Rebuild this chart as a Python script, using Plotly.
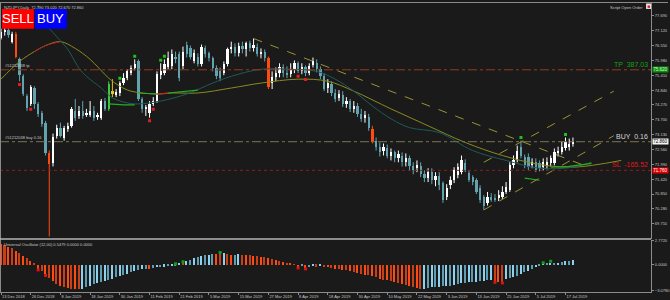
import plotly.graph_objects as go

# ---------------- data ----------------
tick_labels = ["13 Dec 2018", "26 Dec 2018", "8 Jan 2019", "18 Jan 2019", "30 Jan 2019",
               "11 Feb 2019", "21 Feb 2019", "5 Mar 2019", "15 Mar 2019", "27 Mar 2019",
               "8 Apr 2019", "18 Apr 2019", "30 Apr 2019", "10 May 2019", "22 May 2019",
               "3 Jun 2019", "13 Jun 2019", "25 Jun 2019", "5 Jul 2019", "17 Jul 2019"]

open_ = [76.85, 77.08, 77.16, 76.70, 77.01, 76.02, 75.37, 74.61, 74.31, 74.92,
         74.31, 73.97, 73.59, 72.41, 72.03, 73.09, 73.40, 73.02, 73.36, 73.47,
         74.04, 73.85, 74.04, 73.89, 73.89, 74.04, 73.81, 73.78, 74.42, 74.12,
         74.80, 74.69, 74.73, 75.11, 75.30, 75.49, 75.68, 75.94, 74.50, 74.12,
         73.97, 74.31, 74.42, 75.41, 75.49, 75.71, 75.75, 76.13, 76.21, 75.75,
         76.59, 76.44, 75.94, 76.13, 75.83, 76.44, 76.25, 76.06, 75.68, 75.56,
         75.49, 75.83, 76.40, 76.51, 76.25, 76.55, 76.40, 76.63, 76.47, 76.51,
         76.21, 76.32, 76.06, 75.11, 75.33, 75.49, 75.71, 75.49, 75.45, 75.64,
         75.87, 75.56, 75.71, 75.49, 75.79, 75.90, 75.64, 75.37, 74.92, 75.07,
         74.73, 74.54, 74.65, 74.31, 74.42, 74.12, 74.23, 73.93, 73.78, 73.81,
         73.36, 72.90, 72.67, 72.52, 72.60, 72.33, 72.45, 72.22, 72.33, 72.07,
         72.22, 71.91, 71.84, 71.91, 71.61, 71.46, 71.69, 71.38, 71.53, 71.27,
         70.74, 71.19, 71.38, 71.57, 71.69, 72.03, 71.65, 71.50, 71.38, 71.08,
         70.74, 70.51, 70.74, 70.70, 70.70, 70.74, 70.93, 71.00, 71.95, 72.14,
         72.64, 72.26, 72.26, 71.95, 72.07, 72.03, 71.88, 71.91, 72.03, 72.03,
         72.41, 72.45, 72.60, 72.64, 72.79]
high = [77.20, 77.27, 77.23, 77.08, 77.08, 76.09, 75.45, 74.69, 75.03, 74.99,
        74.38, 74.04, 73.66, 72.52, 73.17, 73.51, 73.59, 73.47, 73.59, 74.19,
        74.50, 74.23, 74.42, 74.12, 74.42, 74.23, 73.97, 74.50, 74.54, 75.18,
        75.26, 74.88, 75.18, 75.49, 75.64, 75.79, 76.02, 76.02, 74.57, 74.27,
        74.42, 74.57, 75.56, 75.87, 76.02, 76.32, 76.40, 76.32, 76.32, 76.51,
        76.70, 76.55, 76.40, 76.25, 76.59, 76.55, 76.32, 76.13, 75.79, 75.71,
        75.94, 76.47, 76.70, 76.63, 76.66, 76.70, 76.70, 76.74, 76.82, 76.63,
        76.44, 76.40, 76.13, 75.56, 75.71, 75.87, 75.83, 75.75, 75.87, 75.98,
        75.94, 75.87, 75.79, 75.87, 76.09, 76.02, 75.75, 75.49, 75.26, 75.18,
        74.88, 74.84, 74.80, 74.57, 74.50, 74.42, 74.35, 74.12, 74.04, 73.93,
        73.47, 73.02, 72.83, 72.79, 72.75, 72.60, 72.52, 72.52, 72.45, 72.41,
        72.33, 72.07, 72.14, 72.07, 71.76, 71.84, 71.84, 71.69, 71.69, 71.34,
        71.23, 71.53, 71.88, 72.03, 72.33, 72.18, 71.76, 71.57, 71.46, 71.19,
        70.81, 70.93, 70.89, 70.85, 71.00, 71.15, 71.31, 72.07, 72.33, 72.71,
        72.90, 72.37, 72.41, 72.22, 72.22, 72.14, 72.22, 72.26, 72.33, 72.60,
        72.67, 72.86, 73.02, 72.98, 73.02]
low = [76.78, 76.93, 76.85, 76.63, 76.06, 75.18, 74.61, 74.04, 74.23, 74.12,
       73.81, 73.43, 72.33, 69.22, 71.91, 72.98, 73.02, 72.90, 73.24, 73.40,
       73.66, 73.74, 73.74, 73.81, 73.81, 73.66, 73.70, 73.70, 74.04, 74.04,
       74.57, 74.57, 74.61, 75.03, 75.22, 75.41, 75.60, 74.42, 73.97, 73.85,
       73.78, 74.23, 74.35, 75.26, 75.41, 75.64, 75.64, 75.87, 75.18, 75.64,
       76.09, 76.02, 75.87, 75.75, 75.75, 76.09, 75.94, 75.56, 75.26, 75.18,
       75.41, 75.75, 76.25, 76.13, 76.13, 76.25, 76.13, 76.32, 76.32, 76.13,
       76.06, 75.94, 74.88, 74.88, 75.18, 75.33, 75.33, 75.30, 75.33, 75.49,
       75.49, 75.45, 75.37, 75.41, 75.71, 75.52, 75.26, 74.80, 74.73, 74.61,
       74.38, 74.42, 74.19, 74.16, 74.00, 73.97, 73.81, 73.62, 73.59, 73.28,
       72.79, 72.52, 72.29, 72.33, 72.22, 72.14, 72.07, 72.07, 71.91, 71.91,
       71.76, 71.61, 71.69, 71.50, 71.31, 71.31, 71.23, 71.15, 71.00, 70.51,
       70.62, 71.04, 71.27, 71.46, 71.61, 71.69, 71.31, 71.19, 70.85, 70.51,
       70.24, 70.41, 70.55, 70.55, 70.58, 70.66, 70.85, 70.93, 71.84, 72.07,
       72.22, 71.84, 71.76, 71.84, 71.69, 71.72, 71.76, 71.80, 71.91, 71.95,
       72.29, 72.37, 72.52, 72.52, 72.67]
close = [77.08, 77.16, 76.97, 77.01, 76.13, 75.41, 74.69, 74.16, 74.95, 74.31,
         73.93, 73.55, 72.41, 71.99, 73.05, 73.40, 73.09, 73.40, 73.47, 74.12,
         73.78, 74.04, 73.85, 73.97, 74.04, 73.78, 73.85, 74.42, 74.12, 75.07,
         74.69, 74.76, 75.11, 75.30, 75.56, 75.68, 75.83, 74.50, 74.12, 74.16,
         74.31, 74.42, 75.45, 75.56, 75.83, 76.06, 76.21, 76.02, 75.30, 76.32,
         76.21, 76.13, 76.25, 75.83, 76.51, 76.21, 76.06, 75.68, 75.37, 75.30,
         75.83, 76.40, 76.51, 76.25, 76.55, 76.40, 76.63, 76.44, 76.59, 76.21,
         76.32, 76.06, 74.95, 75.33, 75.49, 75.71, 75.49, 75.41, 75.64, 75.87,
         75.56, 75.71, 75.49, 75.75, 75.94, 75.64, 75.37, 74.88, 75.11, 74.73,
         74.50, 74.69, 74.31, 74.42, 74.12, 74.23, 73.93, 73.74, 73.89, 73.40,
         72.86, 72.67, 72.45, 72.64, 72.33, 72.45, 72.22, 72.37, 72.07, 72.22,
         71.91, 71.76, 71.95, 71.61, 71.46, 71.69, 71.38, 71.53, 71.19, 70.62,
         71.08, 71.38, 71.76, 71.88, 72.14, 71.76, 71.38, 71.31, 70.93, 70.62,
         70.41, 70.74, 70.62, 70.62, 70.81, 70.93, 71.12, 71.95, 72.14, 72.52,
         72.33, 71.95, 71.88, 72.07, 71.76, 71.84, 72.07, 72.07, 72.22, 72.45,
         72.52, 72.64, 72.83, 72.79, 72.86]

osc = [2.40, 2.31, 2.12, 1.92, 1.55, 1.35, 1.05, 0.77, 0.46, 0.12,
       -0.50, -0.77, -1.15, -1.54, -1.92, -2.19, -2.42, -2.58, -2.69, -2.77,
       -2.81, -2.82, -2.77, -2.58, -2.42, -2.27, -2.12, -2.00, -1.85, -1.73,
       -1.62, -1.46, -1.35, -1.19, -1.04, -0.88, -0.73, -0.62, -0.54, -0.50,
       -0.52, -0.38, -0.31, -0.27, -0.23, -0.15, -0.12, -0.08, 0.19, 0.15,
       0.42, 0.58, 0.73, 0.88, 1.00, 1.12, 1.19, 1.27, 1.25, 1.23,
       1.38, 1.27, 1.15, 1.18, 1.27, 1.15, 1.12, 1.08, 1.04, 1.00,
       0.96, 0.92, 0.77, 0.65, 0.54, 0.46, 0.31, 0.23, 0.12, 0.04,
       -0.27, -0.12, -0.38, -0.27, -0.12, -0.23, -0.12, -0.27, -0.31, -0.42,
       -0.46, -0.50, -0.58, -0.65, -0.77, -0.88, -0.96, -1.08, -1.15, -1.23,
       -1.35, -1.46, -1.62, -1.73, -1.81, -1.92, -2.00, -2.12, -2.23, -2.35,
       -2.50, -2.58, -2.69, -2.78, -2.77, -2.66, -2.58, -2.57, -2.55, -2.53,
       -2.50, -2.42, -2.31, -2.19, -2.12, -2.10, -2.04, -1.98, -1.96, -1.92,
       -1.85, -1.81, -1.73, -1.95, -1.98, -2.02, -1.62, -1.58, -1.46, -1.27,
       -1.04, -0.88, -0.69, -0.50, -0.31, -0.19, 0.04, 0.12, 0.20, 0.21,
       0.22, 0.27, 0.38, 0.46, 0.58]

# signal candles (bar index -> colour)
signal_bars = {4: "#ff4a10", 13: "#ff4a10", 29: "#3ccc3c", 30: "#e8c020", 72: "#ff4a10", 100: "#ff4a10"}

# moving averages read as (bar index, price) points
ma_slow_idx = [0, 5, 9, 12, 16, 20, 24, 29, 32, 35, 42, 46, 53, 62, 70, 80, 88, 95, 105, 115, 125, 135, 145, 154, 167]
ma_slow_val = [75.26, 75.94, 76.32, 76.55, 76.70, 76.44, 76.02, 75.30, 74.99, 74.80, 74.69, 74.73, 74.73, 74.92,
               75.11, 75.26, 75.18, 74.80, 74.12, 73.47, 72.83, 72.33, 71.99, 71.88, 72.14]
ma_slow_red_idx = [9, 12, 16]
ma_slow_red_val = [76.32, 76.55, 76.70]
ma_mid_idx = [10, 11, 15, 18, 21, 23, 27, 30, 34, 37, 43, 50, 57, 62, 70, 78, 85, 90, 95, 100, 105, 110, 118,
              127, 136, 145, 154, 159]
ma_mid_val = [78.11, 77.58, 76.89, 76.40, 75.68, 75.37, 74.92, 74.54, 74.35, 74.31, 74.42, 74.69, 75.11, 75.37,
              75.64, 75.64, 75.56, 75.26, 74.80, 74.23, 73.74, 73.40, 73.21, 72.52, 72.14, 71.84, 71.88, 72.07]
ma_fast_segments = [
    ([29, 33, 36], [74.31, 74.27, 74.27], "#22b022"),
    ([37, 42], [74.73, 74.69], "#22b022"),
    ([42, 45], [74.69, 74.73], "#d02020"),
    ([45, 53], [74.73, 74.84], "#22b022"),
    ([141, 145], [71.46, 71.38], "#22b022"),
    ([148, 153, 159], [71.88, 71.91, 72.03], "#22b022"),
]

trend_lines = [([68, 157], [76.82, 71.95]), ([130, 165], [70.24, 73.09]), ([130, 165], [72.07, 74.80])]

buy_signal_idx = [32, 36, 43, 44, 140, 152]
sell_signal_idx = [5, 8, 40, 41, 80, 82]
osc_buy_idx = [47, 49, 59, 146, 148]
osc_sell_idx = [10, 12, 80, 82, 133, 135]

price_ticks = [77.69, 77.12, 76.55, 75.98, 75.41, 74.84, 74.27, 73.70, 73.13, 72.56, 71.99, 71.42, 70.85, 70.28, 69.71]
osc_ticks = [2.772, 0.0, -3.078]

tp_price, tp_text = 75.62, "TP  387.03"
buy_price, buy_text = 72.86, "BUY  0.16"
sl_price, sl_text = 71.76, "SL  -165.52"
ticket = "#51212038"

# ---------------- figure ----------------
W, H = 670, 300
BG = "#1a1a1a"
AX = "#8c8c8c"
XR = 653 / W
n = len(close)
idx = list(range(n))

fig = go.Figure()

BULL, BEAR = "#ffffff", "#62a3ae"
body_base, body_h, body_col = [], [], []
wick_groups = {}
for i in idx:
    o, c = open_[i], close[i]
    col = signal_bars.get(i, BULL if c >= o else BEAR)
    body_base.append(min(o, c))
    body_h.append(max(abs(c - o), 0.025))
    body_col.append(col)
    wx, wy = wick_groups.setdefault(col, ([], []))
    wx += [i, i, None]
    wy += [low[i], high[i], None]

for col, (wx, wy) in wick_groups.items():
    fig.add_trace(go.Scatter(x=wx, y=wy, mode="lines", line=dict(color=col, width=1),
                             xaxis="x2", yaxis="y", hoverinfo="skip", showlegend=False))
fig.add_trace(go.Bar(x=idx, y=body_h, base=body_base, width=0.62, marker=dict(color=body_col, line=dict(width=0)),
                     xaxis="x2", yaxis="y", showlegend=False))

# moving averages
fig.add_trace(go.Scatter(x=ma_slow_idx, y=ma_slow_val, mode="lines", line=dict(color="#8a8a22", width=1, shape="spline"),
                         xaxis="x2", yaxis="y", showlegend=False))
fig.add_trace(go.Scatter(x=ma_slow_red_idx, y=ma_slow_red_val, mode="lines", line=dict(color="#b02020", width=1, shape="spline"),
                         xaxis="x2", yaxis="y", showlegend=False))
fig.add_trace(go.Scatter(x=ma_mid_idx, y=ma_mid_val, mode="lines", line=dict(color="#1f5a5a", width=1, shape="spline"),
                         xaxis="x2", yaxis="y", showlegend=False))
for sx, sy, col in ma_fast_segments:
    fig.add_trace(go.Scatter(x=sx, y=sy, mode="lines", line=dict(color=col, width=1.2),
                             xaxis="x2", yaxis="y", showlegend=False))
for tx, ty in trend_lines:
    fig.add_trace(go.Scatter(x=tx, y=ty, mode="lines", line=dict(color="#9a9432", width=1, dash="dash"),
                             xaxis="x2", yaxis="y", showlegend=False))

# signal markers
fig.add_trace(go.Scatter(x=buy_signal_idx, y=[high[i] + 0.12 for i in buy_signal_idx], mode="markers",
                         marker=dict(color="#1fbf1f", size=3, symbol="square"), xaxis="x2", yaxis="y", showlegend=False))
fig.add_trace(go.Scatter(x=sell_signal_idx, y=[low[i] - 0.12 for i in sell_signal_idx], mode="markers",
                         marker=dict(color="#e02020", size=3, symbol="square"), xaxis="x2", yaxis="y", showlegend=False))

# oscillator histogram
osc_col = []
for i in idx:
    rising = i > 0 and osc[i] >= osc[i - 1]
    if rising:
        osc_col.append("#8fd0ee" if i % 2 == 0 else "#5f9eb0")
    else:
        osc_col.append("#ff4a10" if i % 2 == 0 else "#c8401a")
fig.add_trace(go.Bar(x=idx, y=osc, width=0.42, marker=dict(color=osc_col, line=dict(width=0)),
                     xaxis="x", yaxis="y2", showlegend=False))
fig.add_trace(go.Scatter(x=osc_buy_idx, y=[osc[i] + 0.15 for i in osc_buy_idx], mode="markers",
                         marker=dict(color="#10a010", size=3, symbol="square"), xaxis="x", yaxis="y2", showlegend=False))
fig.add_trace(go.Scatter(x=osc_sell_idx, y=[osc[i] - 0.15 for i in osc_sell_idx], mode="markers",
                         marker=dict(color="#e01010", size=3, symbol="square"), xaxis="x", yaxis="y2", showlegend=False))

# horizontal order lines
for price, col, dash in [(tp_price, "#9a3a1a", "dashdot"), (buy_price, "#7a7450", "dashdot"), (sl_price, "#8f1a1a", "dot")]:
    fig.add_shape(type="line", xref="paper", yref="y", x0=0, x1=XR, y0=price, y1=price,
                  line=dict(color=col, width=1, dash=dash))

# frame lines
frame = dict(color=AX, width=1)
fig.add_shape(type="line", xref="paper", yref="paper", x0=0, x1=1, y0=1 - 0.5 / H, y1=1 - 0.5 / H, line=frame)
fig.add_shape(type="line", xref="paper", yref="paper", x0=0.5 / W, x1=0.5 / W, y0=1 - 293 / H, y1=1, line=frame)
fig.add_shape(type="line", xref="paper", yref="paper", x0=0, x1=XR, y0=1 - 239.5 / H, y1=1 - 239.5 / H,
              line=dict(color="#b4b4b4", width=1.5))

FONT = "Liberation Sans, Arial, sans-serif"
ann = []
ann.append(dict(xref="paper", yref="paper", x=2 / W, y=1 - 1 / H, xanchor="left", yanchor="top",
                text=f"NZDJPY,Daily  {open_[-1]:.3f} {high[-1]:.3f} {low[-1]:.3f} {close[-1]:.3f}",
                font=dict(size=4, color="#c8c8c8", family=FONT), showarrow=False))
ann.append(dict(xref="paper", yref="paper", x=647 / W, y=1 - 1.5 / H, xanchor="right", yanchor="top",
                text="Script Open Order", font=dict(size=4, color="#c8c8c8", family=FONT), showarrow=False))
ann.append(dict(xref="paper", yref="paper", x=2 / W, y=1 - 240.5 / H, xanchor="left", yanchor="top",
                text="Universal Oscillator (12,00) 0.5479 0.0000 0.0000",
                font=dict(size=4, color="#c8c8c8", family=FONT), showarrow=False))
ann.append(dict(xref="paper", yref="y", x=3 / W, y=tp_price, xanchor="left", yanchor="bottom",
                text=f"{ticket} tp", font=dict(size=4, color="#c8c8c8", family=FONT), showarrow=False))
ann.append(dict(xref="paper", yref="y", x=3 / W, y=buy_price, xanchor="left", yanchor="bottom",
                text=f"{ticket} buy 0.16", font=dict(size=4, color="#c8c8c8", family=FONT), showarrow=False))
for price, txt, col in [(tp_price, tp_text, "#13a013"), (buy_price, buy_text, "#d8d8d8"), (sl_price, sl_text, "#e01818")]:
    ann.append(dict(xref="paper", yref="y", x=652 / W, y=price, xanchor="right", yanchor="bottom", yshift=0,
                    text=txt, font=dict(size=7, color=col, family=FONT), showarrow=False))
for price, bg, fg in [(tp_price, "#0f8f0f", "#d8ffd8"), (buy_price, "#f4f4f4", "#000000"), (sl_price, "#e80000", "#ffffff")]:
    ann.append(dict(xref="paper", yref="y", x=654 / W, y=price, xanchor="left", yanchor="middle",
                    text=f"{price:.3f}", font=dict(size=4.5, color=fg, family=FONT), showarrow=False,
                    bgcolor=bg, width=15, height=5, borderpad=0))
# SELL / BUY buttons
fig.add_shape(type="rect", xref="paper", yref="paper", x0=2 / W, x1=34 / W, y0=1 - 27 / H, y1=1 - 7 / H,
              fillcolor="#ff0000", line=dict(width=0))
fig.add_shape(type="rect", xref="paper", yref="paper", x0=35 / W, x1=67 / W, y0=1 - 27 / H, y1=1 - 7 / H,
              fillcolor="#0000ff", line=dict(width=0))
ann.append(dict(xref="paper", yref="paper", x=18 / W, y=1 - 17 / H, text="SELL", showarrow=False,
                font=dict(size=13, color="#ffffff", family=FONT), xanchor="center", yanchor="middle"))
ann.append(dict(xref="paper", yref="paper", x=51 / W, y=1 - 17 / H, text="BUY", showarrow=False,
                font=dict(size=13, color="#ffffff", family=FONT), xanchor="center", yanchor="middle"))
# small icon top right
fig.add_shape(type="rect", xref="paper", yref="paper", x0=648 / W, x1=653 / W, y0=1 - 7 / H, y1=1 - 1.5 / H,
              fillcolor="#e8e8e8", line=dict(width=0))
fig.add_shape(type="rect", xref="paper", yref="paper", x0=649.5 / W, x1=652 / W, y0=1 - 6 / H, y1=1 - 3.5 / H,
              fillcolor="#e02020", line=dict(width=0))

x_left = -0.27
x_right = x_left + (653 / 3.725)
tickfont = dict(size=4, color="#c8c8c8", family=FONT)
fig.update_layout(
    width=W, height=H, margin=dict(l=0, r=0, t=0, b=0),
    paper_bgcolor=BG, plot_bgcolor=BG, barmode="overlay", bargap=0, showlegend=False,
    annotations=ann,
    xaxis=dict(domain=[0, XR], anchor="y2", range=[x_left, x_right], tickvals=[8 * k for k in range(len(tick_labels))],
               ticktext=tick_labels, ticks="outside", ticklen=2, tickcolor=AX, showline=True, linecolor=AX,
               showgrid=False, zeroline=False, ticklabelposition="outside right", tickangle=0,
               tickfont=tickfont),
    xaxis2=dict(domain=[0, XR], anchor="y", matches="x", showticklabels=False, showgrid=False, zeroline=False,
                showline=False, ticks=""),
    yaxis=dict(domain=[1 - 239 / H, 1 - 1 / H], anchor="x2", side="right", range=[69.14, 78.184],
               tickvals=price_ticks, tickformat=".3f", ticks="outside", ticklen=2, tickcolor=AX,
               showline=True, linecolor=AX, showgrid=False, zeroline=False, tickfont=tickfont),
    yaxis2=dict(domain=[1 - 293 / H, 1 - 240 / H], anchor="x", side="right", range=[-3.233, 2.887],
                tickvals=osc_ticks, tickformat=".4f", ticks="outside", ticklen=2, tickcolor=AX,
                showline=True, linecolor=AX, showgrid=False, zeroline=False, tickfont=tickfont),
)

fig.write_html("out.html")
